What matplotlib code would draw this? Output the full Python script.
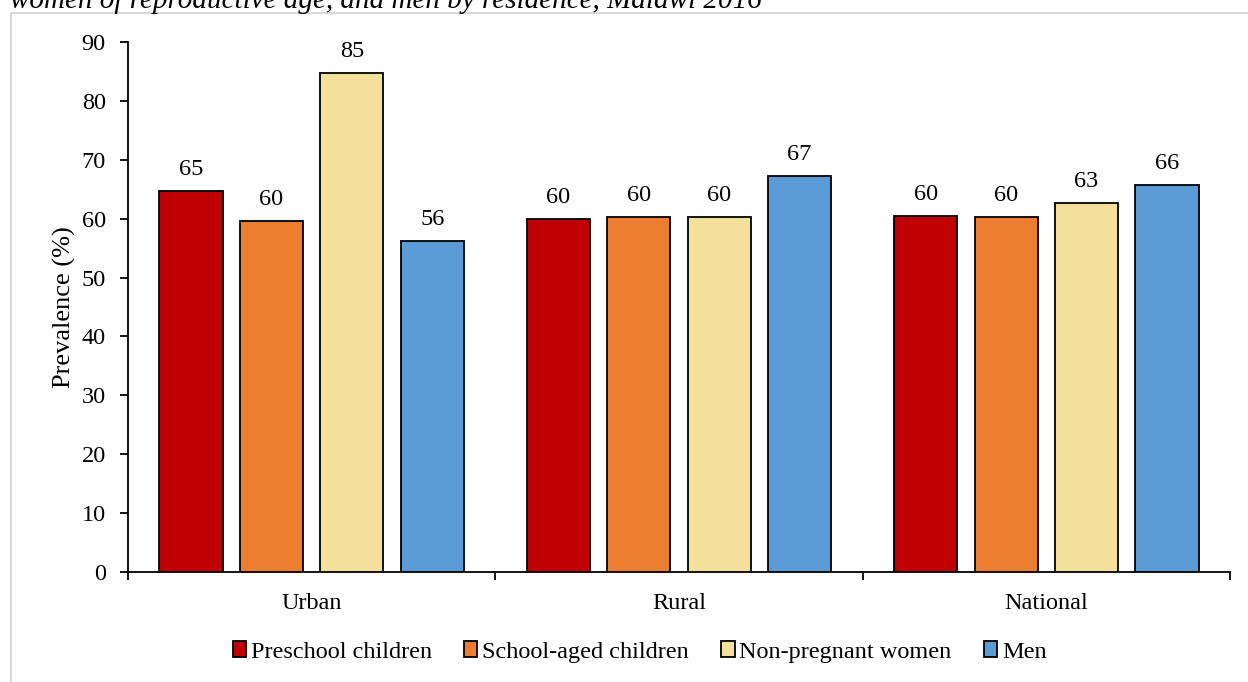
import matplotlib
matplotlib.use("Agg")
import matplotlib.pyplot as plt
import numpy as np
from matplotlib.patches import Rectangle
from matplotlib.lines import Line2D

categories = ["Urban", "Rural", "National"]
series = ["Preschool children", "School-aged children", "Non-pregnant women", "Men"]
preschool = [64.7, 59.9, 60.5]
school_aged = [59.6, 60.2, 60.3]
non_pregnant = [84.7, 60.2, 62.6]
men = [56.2, 67.2, 65.7]
colors = ["#C00000", "#ED7D31", "#F2E09B", "#5B9BD5"]
yticks = [0, 10, 20, 30, 40, 50, 60, 70, 80, 90]
title = "women of reproductive age, and men by residence, Malawi 2016"

plt.rcParams['font.family'] = ['Liberation Serif', 'DejaVu Serif']

W, H = 1248, 682
FS = 17.5
fig = plt.figure(figsize=(W / 100, H / 100), dpi=100)
ax = fig.add_axes([128 / W, 1 - 572 / H, (1230 - 128) / W, (572 - 42) / H])

data = [preschool, school_aged, non_pregnant, men]
x = np.arange(len(categories)) + 0.5
step = 0.219
width = 0.172
for i, (vals, col, name) in enumerate(zip(data, colors, series)):
    pos = x + (i - 1.5) * step
    bars = ax.bar(pos, vals, width, color=col, edgecolor="black", linewidth=1.3,
                  label=name, zorder=3)
    for b, v in zip(bars, vals):
        ax.annotate(f"{v:.0f}", (b.get_x() + b.get_width() / 2, v),
                    xytext=(0, 8), textcoords="offset points",
                    ha="center", va="bottom", fontsize=FS)

ax.set_xlim(0, 3)
ax.set_ylim(0, 90)
ax.set_yticks(yticks)
ax.tick_params(axis="y", labelsize=FS, length=6, width=1.3, direction="out", pad=10)
ax.set_xticks([0, 1, 2, 3])
ax.set_xticklabels([])
ax.tick_params(axis="x", which="major", length=6, width=1.3, direction="out")
ax.set_xticks(x, minor=True)
ax.set_xticklabels(categories, minor=True, fontsize=FS)
ax.tick_params(axis="x", which="minor", length=0, pad=15)
for s in ["top", "right"]:
    ax.spines[s].set_visible(False)
ax.spines["left"].set_linewidth(1.3)
ax.spines["bottom"].set_linewidth(1.3)
ax.set_ylabel("Prevalence (%)", fontsize=19, labelpad=4)

handles = [Rectangle((0, 0), 1, 1, facecolor=c, edgecolor="black", linewidth=1.3) for c in colors]
fig.legend(handles, series, loc="center", bbox_to_anchor=(0.5125, 1 - 652 / H), ncol=4,
           frameon=False, fontsize=FS, handlelength=0.55, handleheight=0.6,
           handletextpad=0.2, columnspacing=1.32)

fig.text(10 / W, 1 - 8 / H, title, fontsize=21, style="italic", ha="left", va="baseline")

fig.add_artist(Line2D([11 / W, 11 / W, 1.0], [0, 1 - 13 / H, 1 - 13 / H],
                      transform=fig.transFigure, color="#D9D9D9", linewidth=1.5))

fig.savefig("out.png", dpi=100)
